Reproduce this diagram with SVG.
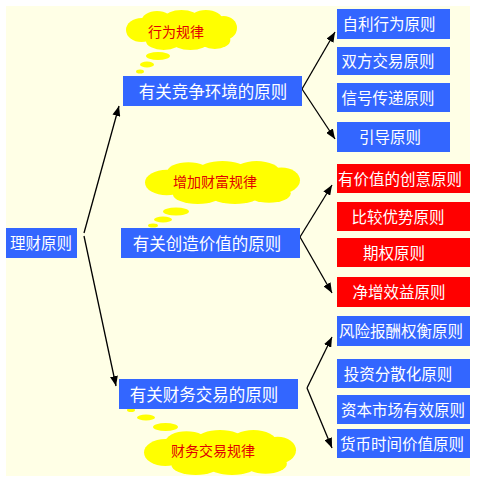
<svg xmlns="http://www.w3.org/2000/svg" width="477" height="480" viewBox="0 0 477 480">
<style>
.bg{fill:#FFFFE6}
.blue{fill:#3366FF}
.red{fill:#FF0000}
.bt{font-family:"Noto Sans CJK SC","Noto Sans",sans-serif;font-size:15.5px;fill:#FFFFFF;text-anchor:middle}
.ct{font-family:"Noto Sans CJK SC","Noto Sans",sans-serif;font-size:14px;fill:#E00000;text-anchor:middle}
.cl{fill:#FFFF00}
.con{stroke:#000;stroke-width:1.3;fill:none;marker-end:url(#arr)}
</style>
<defs>
<marker id="arr" markerUnits="userSpaceOnUse" markerWidth="10" markerHeight="8" refX="10" refY="4" orient="auto">
<path d="M0,0 L10,4 L0,8 z" fill="#000"/>
</marker>
<g id="cloud">
<ellipse cx="0" cy="0" rx="40" ry="14"/>
<ellipse cx="-36" cy="0" rx="14" ry="12"/>
<ellipse cx="-22" cy="-9" rx="14" ry="10"/>
<ellipse cx="0" cy="-12" rx="15" ry="8"/>
<ellipse cx="22" cy="-10" rx="15" ry="10"/>
<ellipse cx="38" cy="-2" rx="12" ry="12"/>
<ellipse cx="30" cy="10" rx="14" ry="9"/>
<ellipse cx="8" cy="12" rx="16" ry="8"/>
<ellipse cx="-16" cy="11" rx="16" ry="9"/>
</g>
</defs>
<rect class="bg" x="6" y="6" width="464" height="470"/>

<g id="cloud1" class="cl">
<use href="#cloud" transform="translate(181.5,30) scale(1.11,1)"/>
<ellipse cx="158" cy="56" rx="12" ry="4"/>
<ellipse cx="147" cy="64.5" rx="7" ry="3"/>
<ellipse cx="140" cy="71.5" rx="4" ry="2"/>
<text class="ct" x="176" y="37">行为规律</text>
</g>
<g id="cloud2" class="cl">
<use href="#cloud" transform="translate(222.5,182.5) scale(1.55,1.07)"/>
<ellipse cx="176" cy="211.5" rx="13" ry="4"/>
<ellipse cx="163" cy="219.5" rx="9" ry="3"/>
<ellipse cx="153" cy="225.5" rx="5" ry="2"/>
<text class="ct" x="215" y="186.5">增加财富规律</text>
</g>
<g id="cloud3" class="cl">
<use href="#cloud" transform="translate(220,452.5) scale(1.52,1.12)"/>
<ellipse cx="131" cy="410" rx="4" ry="2"/>
<ellipse cx="146" cy="417.5" rx="9" ry="3"/>
<ellipse cx="165.5" cy="427" rx="12.5" ry="4"/>
<text class="ct" x="213" y="456">财务交易规律</text>
</g>

<g id="connectors">
<line class="con" x1="84" y1="233" x2="119" y2="106"/>
<line class="con" x1="84" y1="236" x2="116" y2="386"/>
<line class="con" x1="302" y1="89" x2="335" y2="32"/>
<line class="con" x1="302" y1="89" x2="335" y2="139"/>
<line class="con" x1="300" y1="237" x2="332" y2="185"/>
<line class="con" x1="300" y1="237" x2="332" y2="293"/>
<line class="con" x1="307" y1="388" x2="332" y2="337"/>
<line class="con" x1="307" y1="388" x2="332" y2="448"/>
</g>

<g id="root"><rect class="blue" x="6" y="228" width="71" height="30"/><text class="bt" x="41" y="249">理财原则</text></g>

<g id="mid1"><rect class="blue" x="123" y="76" width="179" height="30"/><text class="bt" x="213" y="97.5" style="font-size:16.5px">有关竞争环境的原则</text></g>
<g id="mid2"><rect class="blue" x="121" y="228" width="179" height="30"/><text class="bt" x="207" y="249.5" style="font-size:16.5px">有关创造价值的原则</text></g>
<g id="mid3"><rect class="blue" x="119" y="379" width="179" height="30"/><text class="bt" x="204" y="400.5" style="font-size:16.5px">有关财务交易的原则</text></g>

<g id="r1"><rect class="blue" x="337" y="9" width="113" height="30"/><text class="bt" x="389" y="30">自利行为原则</text></g>
<g id="r2"><rect class="blue" x="337" y="47" width="113" height="28"/><text class="bt" x="388" y="67">双方交易原则</text></g>
<g id="r3"><rect class="blue" x="337" y="83" width="113" height="29"/><text class="bt" x="388" y="103.5">信号传递原则</text></g>
<g id="r4"><rect class="blue" x="337" y="122" width="113" height="30"/><text class="bt" x="390" y="143">引导原则</text></g>

<g id="r5"><rect class="red" x="337" y="164" width="133" height="29"/><text class="bt" x="400" y="184.5">有价值的创意原则</text></g>
<g id="r6"><rect class="red" x="337" y="202" width="133" height="29"/><text class="bt" x="398" y="222.5">比较优势原则</text></g>
<g id="r7"><rect class="red" x="337" y="238" width="133" height="29"/><text class="bt" x="394" y="258.5">期权原则</text></g>
<g id="r8"><rect class="red" x="337" y="277" width="133" height="30"/><text class="bt" x="399" y="298">净增效益原则</text></g>

<g id="r9"><rect class="blue" x="337" y="316" width="133" height="30"/><text class="bt" x="401" y="337">风险报酬权衡原则</text></g>
<g id="r10"><rect class="blue" x="337" y="359" width="133" height="29"/><text class="bt" x="398" y="379.5">投资分散化原则</text></g>
<g id="r11"><rect class="blue" x="337" y="395" width="133" height="29"/><text class="bt" x="403" y="415.5">资本市场有效原则</text></g>
<g id="r12"><rect class="blue" x="337" y="429" width="133" height="29"/><text class="bt" x="402" y="449.5">货币时间价值原则</text></g>
</svg>
